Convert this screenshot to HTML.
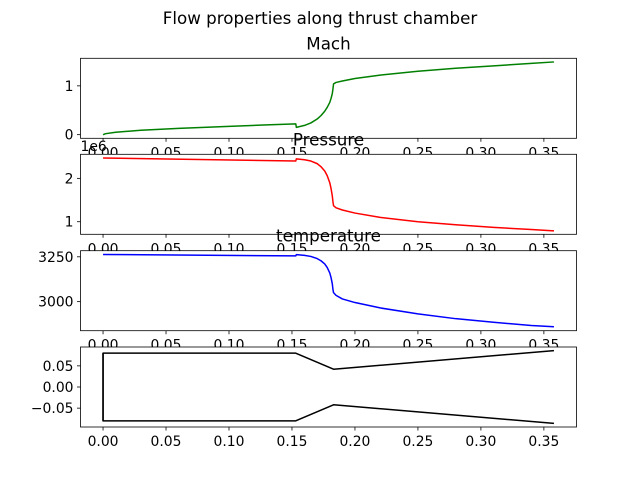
<!DOCTYPE html>
<html><head><meta charset="utf-8"><style>
body{margin:0;background:#fff}
svg text{font-family:"DejaVu Sans","Liberation Sans",sans-serif;fill:#000}
</style></head><body>
<svg id="c" width="640" height="480" viewBox="0 0 640 480" xmlns="http://www.w3.org/2000/svg">
<rect width="640" height="480" fill="#fff"/>
<text x="320" y="24" font-size="16.7" text-anchor="middle">Flow properties along thrust chamber</text>
</svg>
<script>
const xTicks=[0,0.05,0.1,0.15,0.2,0.25,0.3,0.35];
const xTickLabels=["0.00","0.05","0.10","0.15","0.20","0.25","0.30","0.35"];
const machX=[0,0.002,0.01,0.03,0.06,0.1,0.13,0.153,0.1535,0.16,0.165,0.17,0.173,0.176,0.178,0.18,0.181,0.182,0.1825,0.183,0.185,0.19,0.2,0.22,0.25,0.28,0.31,0.34,0.358];
const machY=[0,0.02,0.05,0.09,0.13,0.17,0.2,0.22,0.15,0.19,0.24,0.32,0.39,0.48,0.56,0.66,0.74,0.84,0.93,1.04,1.07,1.1,1.15,1.22,1.3,1.36,1.41,1.46,1.49];
const presX=[0,0.153,0.1535,0.16,0.165,0.17,0.173,0.176,0.178,0.18,0.181,0.182,0.1825,0.183,0.185,0.19,0.2,0.22,0.25,0.28,0.31,0.34,0.358];
const presY=[2.47,2.4,2.45,2.43,2.4,2.34,2.27,2.17,2.06,1.9,1.77,1.6,1.47,1.37,1.32,1.27,1.2,1.1,1.0,0.93,0.87,0.82,0.79];
const tempX=[0,0.153,0.1535,0.16,0.165,0.17,0.173,0.176,0.178,0.18,0.181,0.182,0.1825,0.183,0.185,0.19,0.2,0.22,0.25,0.28,0.31,0.34,0.358];
const tempY=[3263,3255,3262,3258,3252,3240,3228,3210,3190,3160,3135,3100,3070,3050,3035,3015,2995,2965,2932,2905,2885,2867,2860];
const geomX=[0,0,0.153,0.183,0.358];
const geomUpper=[-0.08,0.08,0.08,0.042,0.086];
const geomLowerX=[0.358,0.183,0.153,0,0];
const geomLower=[-0.086,-0.042,-0.08,-0.08,0.08];

const svg=document.getElementById('c');
const NS='http://www.w3.org/2000/svg';
function mk(tag,attrs,parent){const e=document.createElementNS(NS,tag);for(const k in attrs)e.setAttribute(k,attrs[k]);(parent||svg).appendChild(e);return e;}
const L=80.5,R=576.5,xmin=-0.0179,xmax=0.3759;
const sx=v=>L+(v-xmin)/(xmax-xmin)*(R-L);

function panel(name,top,bot,ymin,ymax,series,yTicks,yLabels,color,title){
  const g=mk('g',{});
  
  
  const sy=v=>bot-(v-ymin)/(ymax-ymin)*(bot-top);
  mk('rect',{x:L,y:top,width:R-L,height:bot-top,fill:'#fff'},g);
  series.forEach((s,i)=>{
    const p=mk('polyline',{points:s[0].map((x,j)=>sx(x)+','+sy(s[1][j])).join(' '),fill:'none',stroke:color,'stroke-width':1.5,'stroke-linejoin':'round'},g);
    
    
  });
  const fr=mk('rect',{x:L,y:top,width:R-L,height:bot-top,fill:'none',stroke:'#000','stroke-width':0.8},g);
  
  
  xTicks.forEach((t,i)=>{
    const x=sx(t);
    mk('line',{x1:x,x2:x,y1:bot,y2:bot+3.5,stroke:'#000','stroke-width':0.8},g);
    const tx=mk('text',{x:x,y:bot+19,'font-size':13.9,'text-anchor':'middle'},g);
    tx.textContent=xTickLabels[i];
    
    
  });
  yTicks.forEach((t,i)=>{
    const y=sy(t);
    mk('line',{x1:L,x2:L-3.5,y1:y,y2:y,stroke:'#000','stroke-width':0.8},g);
    const tx=mk('text',{x:L-7,y:y+5,'font-size':13.9,'text-anchor':'end'},g);
    tx.textContent=yLabels[i];
    
    
  });
  if(title){
    const tt=mk('text',{x:(L+R)/2,y:top-9,'font-size':16.7,'text-anchor':'middle'},g);
    tt.textContent=title;
    
    
  }
}
panel('mach',58.3,138.3,-0.0745,1.5645,[[machX,machY]],[0,1],["0","1"],'green','Mach');
panel('pressure',154.3,234.3,0.71,2.555,[[presX,presY]],[1,2],["1","2"],'red','Pressure');
panel('temperature',250.7,330.7,2838,3284,[[tempX,tempY]],[3000,3250],["3000","3250"],'blue','temperature');
panel('geometry',347,427,-0.0946,0.0946,[[geomX,geomUpper],[geomLowerX,geomLower]],[-0.05,0,0.05],["\u22120.05","0.00","0.05"],'black','');
const off=mk('text',{x:L,y:151,'font-size':13.9});
off.textContent='1e6';


</script>
</body></html>
